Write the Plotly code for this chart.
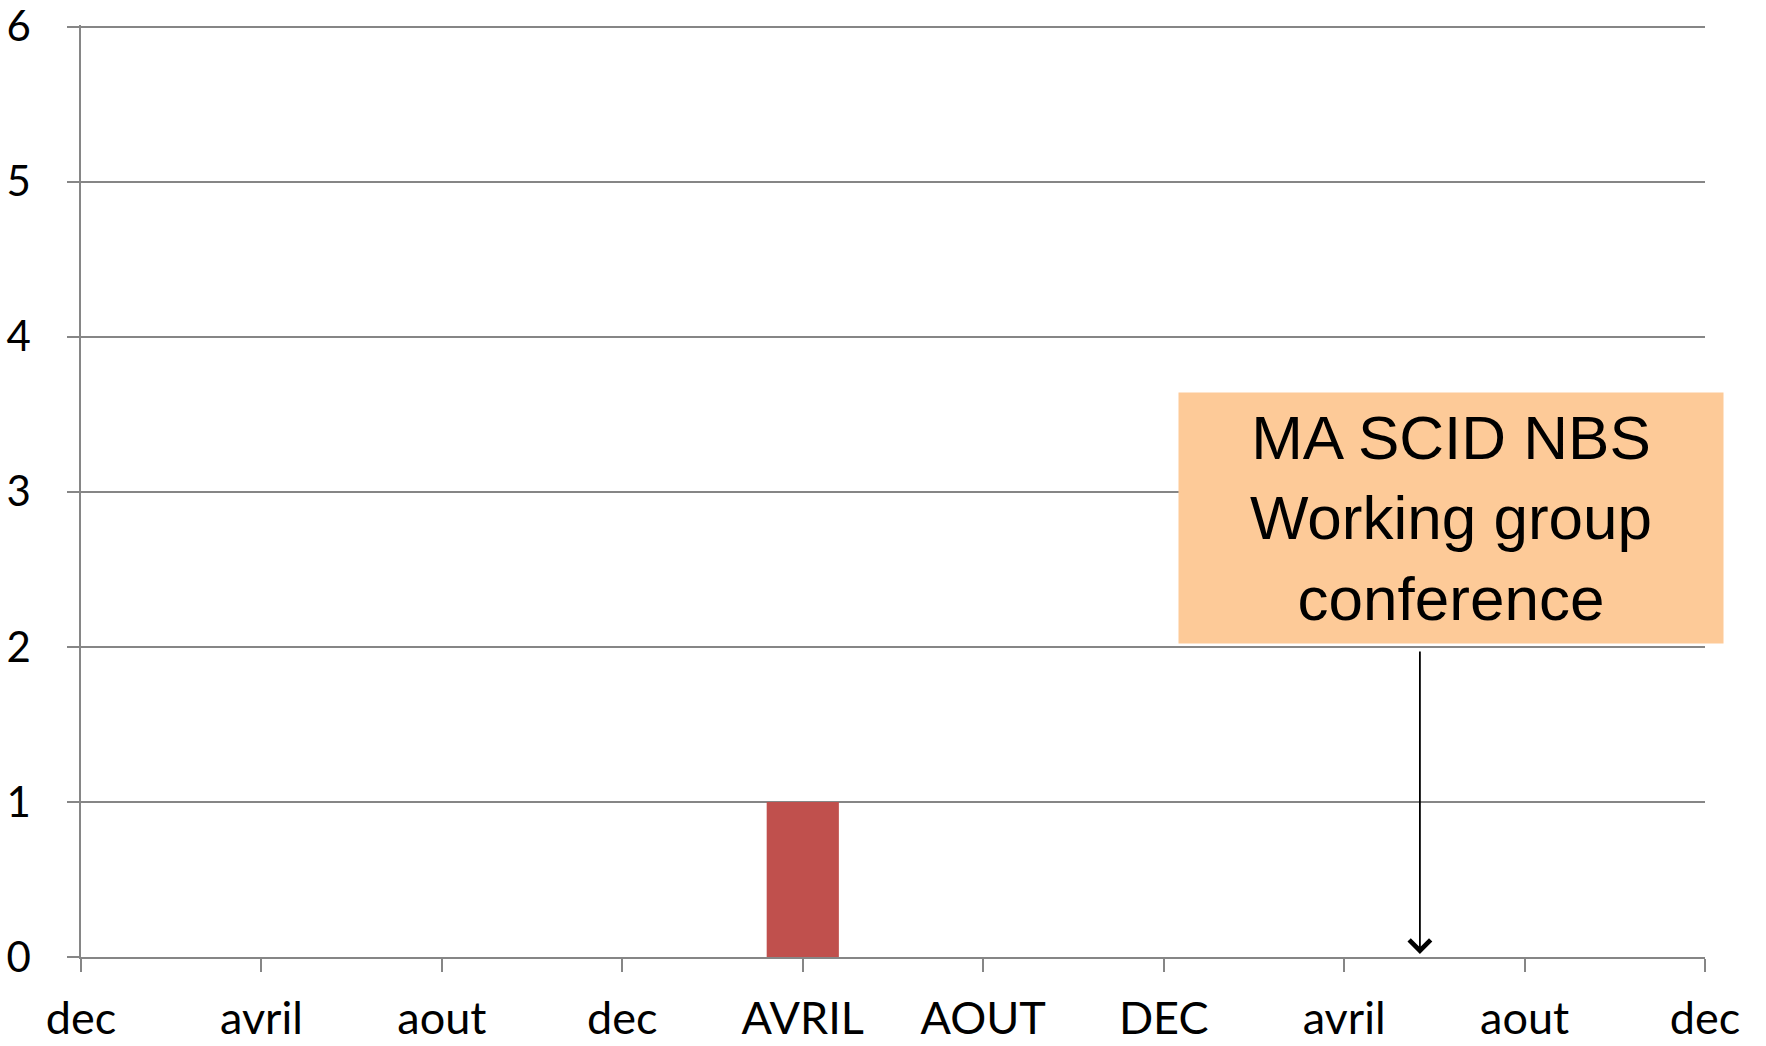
import plotly.graph_objects as go

# Data
period_labels = ["dec", "avril", "aout", "dec", "AVRIL", "AOUT", "DEC", "avril", "aout", "dec"]
case_counts = [0, 0, 0, 0, 1, 0, 0, 0, 0, 0]
y_ticks = [0, 1, 2, 3, 4, 5, 6]

event_text = "MA SCID NBS<br>Working group<br>conference"
event_x = 7.42

positions = list(range(len(period_labels)))

grid_color = "#868686"
x_tick_font = dict(family="Lato, Carlito, Calibri, sans-serif", size=45, color="#000000")
y_tick_font = dict(family="Lato, Carlito, Calibri, sans-serif", size=42, color="#000000")

fig = go.Figure()
fig.add_trace(go.Bar(
    x=positions,
    y=case_counts,
    width=0.4,
    marker=dict(color="#C0504D", line=dict(width=0)),
    showlegend=False,
    hoverinfo="skip",
))

fig.update_layout(
    width=1766,
    height=1046,
    margin=dict(l=81, r=61, t=25, b=89, autoexpand=False),
    paper_bgcolor="white",
    plot_bgcolor="white",
    xaxis=dict(
        range=[0, len(period_labels) - 1],
        tickmode="array",
        tickvals=positions,
        ticktext=period_labels,
        showgrid=False,
        zeroline=False,
        showline=True,
        linecolor=grid_color,
        linewidth=1.5,
        ticks="outside",
        ticklen=13,
        tickwidth=1.5,
        tickcolor=grid_color,
        tickfont=x_tick_font,
        ticklabelstandoff=8,
        ticklabeloverflow="allow",
        automargin=False,
    ),
    yaxis=dict(
        range=[0, 6.01],
        tickmode="array",
        tickvals=y_ticks,
        ticktext=[str(v) for v in y_ticks],
        showgrid=True,
        gridcolor=grid_color,
        gridwidth=1.5,
        zeroline=False,
        showline=True,
        linecolor=grid_color,
        linewidth=1.5,
        ticks="outside",
        ticklen=12,
        tickwidth=1.5,
        tickcolor=grid_color,
        tickfont=y_tick_font,
        ticklabelstandoff=28,
        ticklabeloverflow="allow",
        automargin=False,
    ),
)

# Event label box
fig.add_annotation(
    x=7.59, y=2.83, xref="x", yref="y",
    text=event_text,
    showarrow=False,
    width=544, height=250,
    bgcolor="#FDCA98",
    borderpad=0,
    font=dict(family="Liberation Sans, Arial, sans-serif", size=62, color="#000000"),
    align="center",
    valign="middle",
)

# Arrow pointing to the event date
fig.add_annotation(
    x=event_x, y=0.02, xref="x", yref="y",
    ax=event_x, ay=1.98, axref="x", ayref="y",
    text="",
    showarrow=True,
    arrowhead=4,
    arrowsize=2.3,
    arrowwidth=1.8,
    arrowcolor="#000000",
)

fig.write_html(
    "out.html",
    config={"displayModeBar": False},
    post_script="document.body.style.margin='0';document.body.style.overflow='hidden';",
)
